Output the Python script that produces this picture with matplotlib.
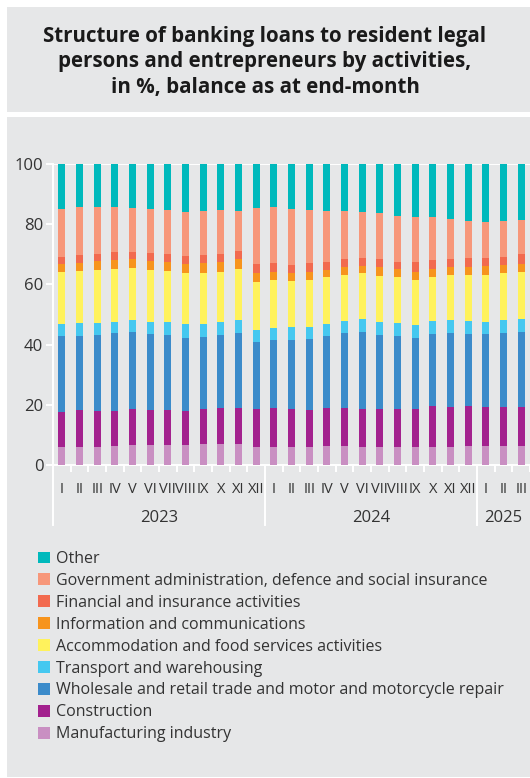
import numpy as np
import matplotlib
matplotlib.use("Agg")
import matplotlib.pyplot as plt
from matplotlib.patches import Rectangle

plt.rcParams['font.family'] = ['Open Sans', 'DejaVu Sans']

# month labels and year groups
months = ['I', 'II', 'III', 'IV', 'V', 'VI', 'VII', 'VIII', 'IX', 'X', 'XI', 'XII',
          'I', 'II', 'III', 'IV', 'V', 'VI', 'VII', 'VIII', 'IX', 'X', 'XI', 'XII',
          'I', 'II', 'III']
years = ['2023', '2024', '2025']
year_sizes = [12, 12, 3]

# shares in % (bottom to top of the stack)
manufacturing = [6.1, 6.1, 6.1, 6.3, 6.5, 6.5, 6.5, 6.5, 6.9, 6.9, 6.9, 6.1,
                 6.1, 6.1, 6.1, 6.3, 6.3, 6.1, 6.1, 6.1, 6.1, 6.1, 6.1, 6.3,
                 6.3, 6.3, 6.3]
construction = [11.6, 12.1, 11.9, 11.7, 12.0, 11.7, 11.9, 11.5, 11.6, 12.1, 12.1, 12.4,
                12.8, 12.6, 12.1, 12.6, 12.7, 12.6, 12.6, 12.4, 12.6, 13.4, 13.3, 13.4,
                13.1, 13.1, 13.1]
wholesale = [25.3, 24.8, 25.3, 26.0, 25.8, 25.4, 24.9, 24.3, 24.1, 24.3, 25.0, 22.5,
             22.5, 22.9, 23.8, 24.1, 24.7, 25.5, 24.6, 24.4, 23.6, 23.9, 24.6, 23.9,
             24.2, 24.6, 24.9]
transport = [4.0, 4.1, 4.0, 3.6, 3.9, 4.0, 4.2, 4.4, 4.4, 4.3, 4.3, 4.0,
             4.1, 4.1, 4.0, 4.0, 4.1, 4.3, 4.3, 4.3, 4.3, 4.3, 4.3, 4.2,
             4.0, 4.1, 4.2]
accommodation = [17.0, 17.4, 17.5, 17.4, 17.4, 17.1, 16.8, 17.0, 16.8, 16.5, 16.8, 15.8,
                 16.0, 15.4, 15.3, 15.5, 15.4, 15.2, 15.3, 15.4, 14.9, 14.9, 14.9, 15.4,
                 15.6, 15.6, 15.6]
information = [2.8, 2.7, 3.0, 3.1, 2.8, 3.1, 3.1, 3.2, 3.2, 3.3, 3.3, 3.0,
               2.6, 2.7, 2.8, 2.3, 2.6, 2.4, 2.9, 2.5, 2.6, 2.5, 2.6, 2.7,
               2.8, 2.7, 2.7]
financial = [2.4, 2.7, 2.4, 2.7, 2.5, 2.7, 2.8, 2.6, 2.9, 2.8, 2.8, 3.1,
             3.0, 2.8, 3.0, 2.8, 2.7, 2.8, 2.6, 2.5, 3.3, 3.0, 2.7, 3.0,
             2.8, 2.8, 3.2]
government = [16.0, 15.7, 15.5, 15.0, 14.6, 14.4, 14.4, 14.7, 14.5, 14.4, 13.2, 18.6,
              18.6, 18.4, 17.6, 16.9, 15.8, 15.0, 15.2, 15.1, 14.9, 14.3, 13.3, 12.2,
              11.9, 11.9, 11.3]
other = [14.8, 14.4, 14.3, 14.2, 14.5, 15.1, 15.4, 15.8, 15.6, 15.4, 15.6, 14.5,
         14.3, 15.0, 15.3, 15.5, 15.7, 16.1, 16.4, 17.3, 17.7, 17.6, 18.2, 18.9,
         19.3, 18.9, 18.7]

labels = ['Manufacturing industry', 'Construction',
          'Wholesale and retail trade and motor and motorcycle repair',
          'Transport and warehousing', 'Accommodation and food services activities',
          'Information and communications', 'Financial and insurance activities',
          'Government administration, defence and social insurance', 'Other']
colors = ['#c98fc2', '#a3218e', '#3b8bca', '#45c8f0', '#fff25c',
          '#f7941d', '#f26a4f', '#f7977a', '#00b9bc']
series = [manufacturing, construction, wholesale, transport, accommodation,
          information, financial, government, other]

BG = '#e6e7e8'
TXT = '#333333'
W, H = 530, 778

fig = plt.figure(figsize=(W / 100, H / 100), dpi=100)
fig.patch.set_facecolor('white')

# two grey panels: title box and chart box
fig.patches.append(Rectangle((7 / W, 1 - 112 / H), 1, 105 / H, transform=fig.transFigure,
                             facecolor=BG, edgecolor='none', zorder=-10))
fig.patches.append(Rectangle((7 / W, 1 - 777 / H), 1, 660 / H, transform=fig.transFigure,
                             facecolor=BG, edgecolor='none', zorder=-10))

fig.text(0.5, 1 - 62 / H,
         'Structure of banking loans to resident legal\n'
         'persons and entrepreneurs by activities,\n'
         'in %, balance as at end-month',
         ha='center', va='center', fontsize=14.8, fontweight='bold',
         color='#1a1a1a', linespacing=1.3)

ax = fig.add_axes([53 / W, 1 - 465 / H, (530 - 53) / W, 301 / H])
ax.set_facecolor('none')

x = np.arange(len(months))
bottom = np.zeros(len(months))
for vals, col, lab in zip(series, colors, labels):
    ax.bar(x, vals, width=0.41, bottom=bottom, color=col, label=lab, zorder=3)
    bottom += np.array(vals)

ax.set_xlim(-0.5, 26.45)
ax.set_ylim(0, 100)

for s in ['top', 'right']:
    ax.spines[s].set_visible(False)
for s in ['left', 'bottom']:
    ax.spines[s].set_color('white')
    ax.spines[s].set_linewidth(1.4)
ax.axhline(100, color='white', lw=1.4, zorder=1)

ax.set_yticks([0, 20, 40, 60, 80, 100])
ax.tick_params(axis='y', colors='white', length=5, width=1.4, labelcolor=TXT,
               labelsize=12, pad=2)

# month ticks between bars, labels under bars
ax.set_xticks(np.arange(-0.5, 27, 1.0))
ax.set_xticklabels([])
ax.set_xticks(x, minor=True)
ax.set_xticklabels(months, minor=True)
ax.tick_params(axis='x', which='major', colors='white', length=5, width=1.4)
ax.tick_params(axis='x', which='minor', length=0, labelsize=10.5, labelcolor=TXT, pad=12)

# year separators and year labels
start = 0
for yr, n in zip(years, year_sizes):
    ax.plot([start - 0.5, start - 0.5], [0, -20], color='white', lw=1.4,
            clip_on=False, zorder=2)
    ax.text(start + (n - 1) / 2, -17.6, yr, ha='center', va='center',
            fontsize=12, color=TXT, clip_on=False)
    start += n

handles, labs = ax.get_legend_handles_labels()
fig.legend(handles[::-1], labs[::-1], loc='upper left',
           bbox_to_anchor=(38 / W, 1 - 551 / H), frameon=False, fontsize=11.5,
           handlelength=0.75, handleheight=0.75, handletextpad=0.4,
           labelspacing=0.37, borderpad=0, borderaxespad=0, labelcolor=TXT)

fig.savefig('out.png', dpi=100, facecolor='white')
